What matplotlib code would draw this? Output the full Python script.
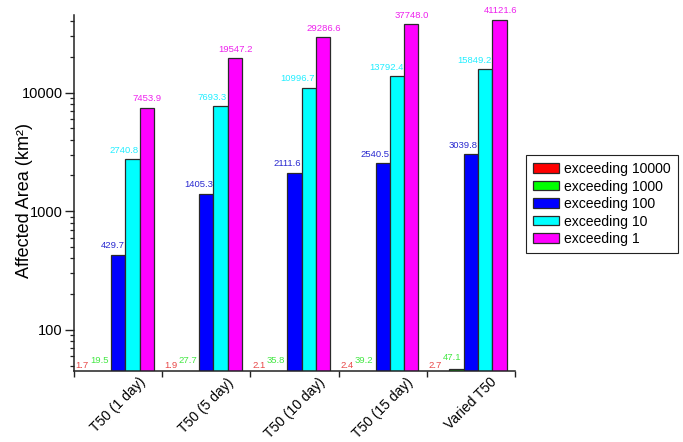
import matplotlib
matplotlib.use("Agg")
import matplotlib.pyplot as plt
import numpy as np
from matplotlib.ticker import FixedLocator, FuncFormatter, NullFormatter, LogLocator

plt.rcParams['font.family'] = ['Liberation Sans', 'DejaVu Sans']

categories = ["T50 (1 day)", "T50 (5 day)", "T50 (10 day)", "T50 (15 day)", "Varied T50"]
series_names = ["exceeding 10000", "exceeding 1000", "exceeding 100", "exceeding 10", "exceeding 1"]
ex10000 = [1.7, 1.9, 2.1, 2.4, 2.7]
ex1000 = [19.5, 27.7, 35.8, 39.2, 47.1]
ex100 = [429.7, 1405.3, 2111.6, 2540.5, 3039.8]
ex10 = [2740.8, 7693.3, 10996.7, 13792.4, 15849.2]
ex1 = [7453.9, 19547.2, 29286.6, 37748.0, 41121.6]
series_values = [ex10000, ex1000, ex100, ex10, ex1]

bar_colors = ["#ff0000", "#00ff00", "#0000ff", "#00ffff", "#ff00ff"]
label_colors = ["#e84848", "#44e844", "#2a2ad0", "#22eeff", "#ee22ee"]
# label alignment per series: (ha, x-offset in points, y-offset in points)
label_style = [("right", -5.5, 2.0), ("right", -1.5, 6.0), ("right", -0.5, 4.5),
               ("right", -0.5, 4.5), ("center", 0.5, 4.5)]

ymin, ymax = 45, 45000

fig = plt.figure(figsize=(6.83, 4.42), dpi=100)
ax = fig.add_axes([74/683, 1-371/442, (515-74)/683, (371-15)/442])

x = np.arange(len(categories))
w = 0.162
for i, (vals, col, name) in enumerate(zip(series_values, bar_colors, series_names)):
    pos = x + (i - 2) * w
    ax.bar(pos, vals, width=w, bottom=1e-3, color=col, edgecolor="#2a2a2a",
           linewidth=0.9, label=name, zorder=2)
    ha, dx, dy = label_style[i]
    for p, v in zip(pos, vals):
        xa = p + w/2 if ha == "right" else p
        ax.annotate(f"{v:.1f}", xy=(xa, max(v, ymin)), xytext=(dx, dy),
                    textcoords="offset points", ha=ha, va="baseline",
                    fontsize=6.8, color=label_colors[i], clip_on=False)

ax.set_yscale("log")
ax.set_ylim(ymin, ymax)
ax.set_xlim(-0.5, len(categories) - 0.5)

ax.yaxis.set_major_locator(FixedLocator([100, 1000, 10000]))
ax.yaxis.set_major_formatter(FuncFormatter(lambda v, p: f"{int(round(v))}"))
ax.yaxis.set_minor_locator(LogLocator(base=10, subs=np.arange(2, 10)))
ax.yaxis.set_minor_formatter(NullFormatter())
ax.tick_params(axis="y", which="major", direction="out", length=6.5, width=1.0,
               labelsize=10.5, pad=1.5, color="#222222")
ax.tick_params(axis="y", which="minor", direction="out", length=3, width=0.9,
               color="#222222")

ax.set_xticks(x)
ax.set_xticklabels(categories, rotation=45, fontsize=10)
ax.set_xticks(np.arange(-0.5, len(categories), 1), minor=True)
ax.tick_params(axis="x", which="major", length=0, pad=3)
ax.tick_params(axis="x", which="minor", direction="out", length=4.5, width=1.0,
               color="#222222")

for s in ["top", "right"]:
    ax.spines[s].set_visible(False)
for s in ["left", "bottom"]:
    ax.spines[s].set_linewidth(1.1)
    ax.spines[s].set_color("#222222")

ax.set_ylabel("Affected Area (km²)", fontsize=13)
ax.yaxis.set_label_coords(-0.093, 0.478)

leg = ax.legend(loc="upper left", bbox_to_anchor=(526/683, 1-155/442),
                bbox_transform=fig.transFigure, borderaxespad=0, fontsize=10.1,
                frameon=True, fancybox=False, framealpha=1, edgecolor="#222222",
                handlelength=1.85, handleheight=0.65, handletextpad=0.35,
                labelspacing=0.25, borderpad=0.5)
leg.get_frame().set_linewidth(0.8)

fig.savefig("out.png", dpi=100)
